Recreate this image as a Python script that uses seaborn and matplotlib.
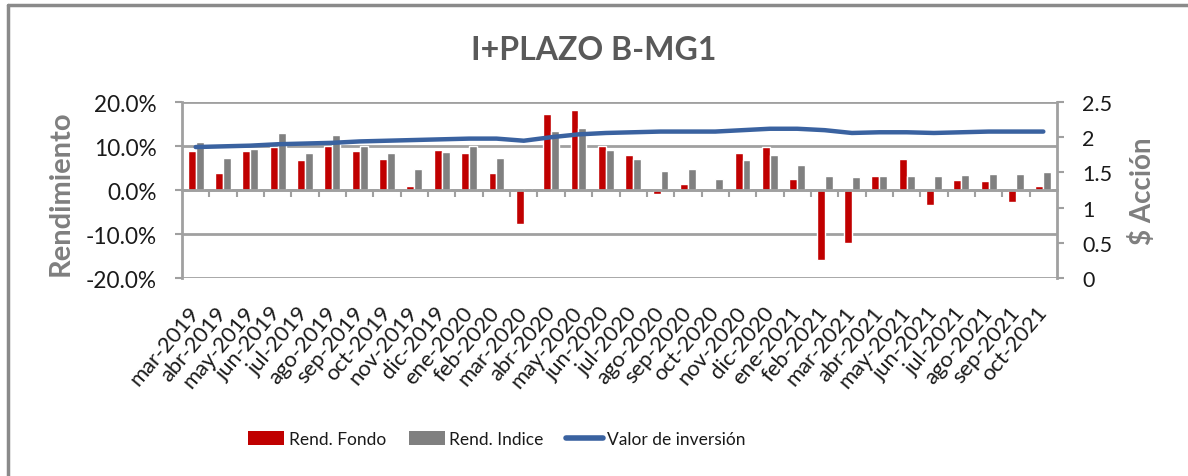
import numpy as np
import pandas as pd
import matplotlib
matplotlib.use('Agg')
import matplotlib.pyplot as plt
import matplotlib.transforms as mtrans
import seaborn as sns
from matplotlib.lines import Line2D
from matplotlib.patches import Patch

# ---------------- data ----------------
months = ['mar-2019', 'abr-2019', 'may-2019', 'jun-2019', 'jul-2019', 'ago-2019',
          'sep-2019', 'oct-2019', 'nov-2019', 'dic-2019', 'ene-2020', 'feb-2020',
          'mar-2020', 'abr-2020', 'may-2020', 'jun-2020', 'jul-2020', 'ago-2020',
          'sep-2020', 'oct-2020', 'nov-2020', 'dic-2020', 'ene-2021', 'feb-2021',
          'mar-2021', 'abr-2021', 'may-2021', 'jun-2021', 'jul-2021', 'ago-2021',
          'sep-2021', 'oct-2021']
rend_fondo = [8.9, 3.9, 8.9, 9.8, 6.8, 10.0, 8.9, 7.1, 0.9, 9.1, 8.3, 3.9,
              -7.8, 17.3, 18.2, 10.0, 8.0, -0.8, 1.4, 0.0, 8.3, 9.8, 2.6, -15.8,
              -12.1, 3.1, 7.1, -3.3, 2.3, 2.0, -2.8, 0.9]
rend_indice = [10.8, 7.3, 9.4, 13.0, 8.3, 12.5, 10.0, 8.3, 4.8, 8.6, 10.0, 7.3,
               0.5, 13.3, 14.2, 9.1, 7.1, 4.3, 4.8, 2.6, 6.8, 8.0, 5.7, 3.1,
               2.9, 3.1, 3.1, 3.1, 3.4, 3.7, 3.7, 4.0]
valor_inversion = [1.86, 1.87, 1.88, 1.90, 1.91, 1.92, 1.94, 1.95, 1.96, 1.97, 1.98, 1.98,
                   1.95, 2.00, 2.04, 2.06, 2.07, 2.08, 2.08, 2.08, 2.10, 2.12, 2.12, 2.10,
                   2.06, 2.07, 2.07, 2.06, 2.07, 2.08, 2.08, 2.08]
series_names = ['Rend. Fondo', 'Rend. Indice', 'Valor de inversión']
left_ticks = [-20, -10, 0, 10, 20]
right_ticks = [0, 0.5, 1, 1.5, 2, 2.5]
right_tick_labels = ['0', '0.5', '1', '1.5', '2', '2.5']
title = 'I+PLAZO B-MG1'

# ---------------- style ----------------
RED = '#C00000'
GRAY = '#808080'
BLUE = '#3A62A0'
GRID = '#A0A0A0'
TXT = '#1a1a1a'

sns.set_theme(style='white')
plt.rcParams['font.family'] = ['Lato', 'DejaVu Sans']

n = len(months)
fig = plt.figure(figsize=(11.88, 4.77), dpi=100)
ax = fig.add_axes([182 / 1188, 1 - 279 / 477, 875 / 1188, 176 / 477])

df = pd.DataFrame({
    'mes': months * 2,
    'rend': rend_fondo + rend_indice,
    'serie': [series_names[0]] * n + [series_names[1]] * n,
})
sns.barplot(data=df, x='mes', y='rend', hue='serie', order=months,
            hue_order=series_names[:2],
            palette={series_names[0]: RED, series_names[1]: GRAY},
            width=0.58, saturation=1, legend=False, ax=ax, zorder=2)

ax.set_ylim(-20, 20)
ax.set_yticks(left_ticks)
ax.set_yticklabels([f'{v:.1f}%' for v in left_ticks])
ax.yaxis.grid(True, color=GRID, lw=2)
ax.xaxis.grid(False)
ax.set_axisbelow(True)
ax.set_xlabel('')
ax.set_ylabel('Rendimiento', fontsize=21, fontweight='bold', color='#7F7F7F')
ax.yaxis.set_label_coords(-0.124, 0.49)

for s in ['top', 'right']:
    ax.spines[s].set_visible(False)
ax.spines['left'].set_color(GRID)
ax.spines['left'].set_linewidth(2)
ax.spines['bottom'].set_position(('data', 0))
ax.spines['bottom'].set_color(GRID)
ax.spines['bottom'].set_linewidth(2)

ax.set_xticks(np.arange(0.5, n - 1, 1))
ax.set_xticklabels([])
ax.tick_params(axis='x', length=5, width=1.5, color=GRID, direction='out', bottom=True)
ax.tick_params(axis='y', length=5, width=1.5, color=GRID, direction='out', left=True,
               labelsize=16.3, labelcolor=TXT, pad=13)

sec = ax.secondary_xaxis('bottom')
sec.set_xticks(np.arange(n))
sec.set_xticklabels(months)
shift = mtrans.ScaledTranslation(9 / 100, 0, fig.dpi_scale_trans)
for lbl in sec.get_xticklabels():
    lbl.set_rotation(50)
    lbl.set_ha('right')
    lbl.set_va('center')
    lbl.set_rotation_mode('anchor')
    lbl.set_transform(lbl.get_transform() + shift)
sec.tick_params(length=0, pad=22, labelsize=15.8, labelcolor=TXT)
sec.spines['bottom'].set_visible(False)

ax2 = ax.twinx()
sns.lineplot(x=np.arange(n), y=valor_inversion, ax=ax2, color=BLUE, lw=3.2, zorder=3)
ax2.set_ylim(0, 2.5)
ax2.set_xlim(-0.5, n - 0.5)
ax.set_xlim(-0.5, n - 0.5)
ax2.set_yticks(right_ticks)
ax2.set_yticklabels(right_tick_labels)
ax2.grid(False)
for s in ['top', 'left', 'bottom']:
    ax2.spines[s].set_visible(False)
ax2.spines['right'].set_color(GRID)
ax2.spines['right'].set_linewidth(2)
ax2.tick_params(axis='y', length=5, width=1.5, color=GRID, direction='out', right=True,
                labelsize=15.5, labelcolor=TXT, pad=13)
ax2.set_ylabel('$ Acción', fontsize=20, fontweight='bold', color='#7F7F7F')
ax2.yaxis.set_label_coords(1.082, 0.5)

fig.text(594 / 1188, 1 - 50 / 477, title, ha='center', va='center',
         fontsize=23, fontweight='bold', color='#595959')

handles = [Patch(facecolor=RED, edgecolor='none'),
           Patch(facecolor=GRAY, edgecolor='none'),
           Line2D([], [], color=BLUE, lw=4)]
fig.legend(handles, series_names, loc='center left',
           bbox_to_anchor=(248 / 1188, 1 - 440 / 477), ncol=3, frameon=False,
           fontsize=12.5, handlelength=2.1, handletextpad=0.25, columnspacing=1.3,
           borderpad=0, borderaxespad=0, handleheight=0.8, labelcolor=TXT)

# chart frame
fig.add_artist(Line2D([8 / 1188, 8 / 1188], [0, 1 - 6 / 477], transform=fig.transFigure,
                      color='#8A8A8A', lw=2.5))
fig.add_artist(Line2D([8 / 1188, 1], [1 - 6 / 477, 1 - 6 / 477], transform=fig.transFigure,
                      color='#8A8A8A', lw=2.5))

fig.savefig('out.png', dpi=100)
